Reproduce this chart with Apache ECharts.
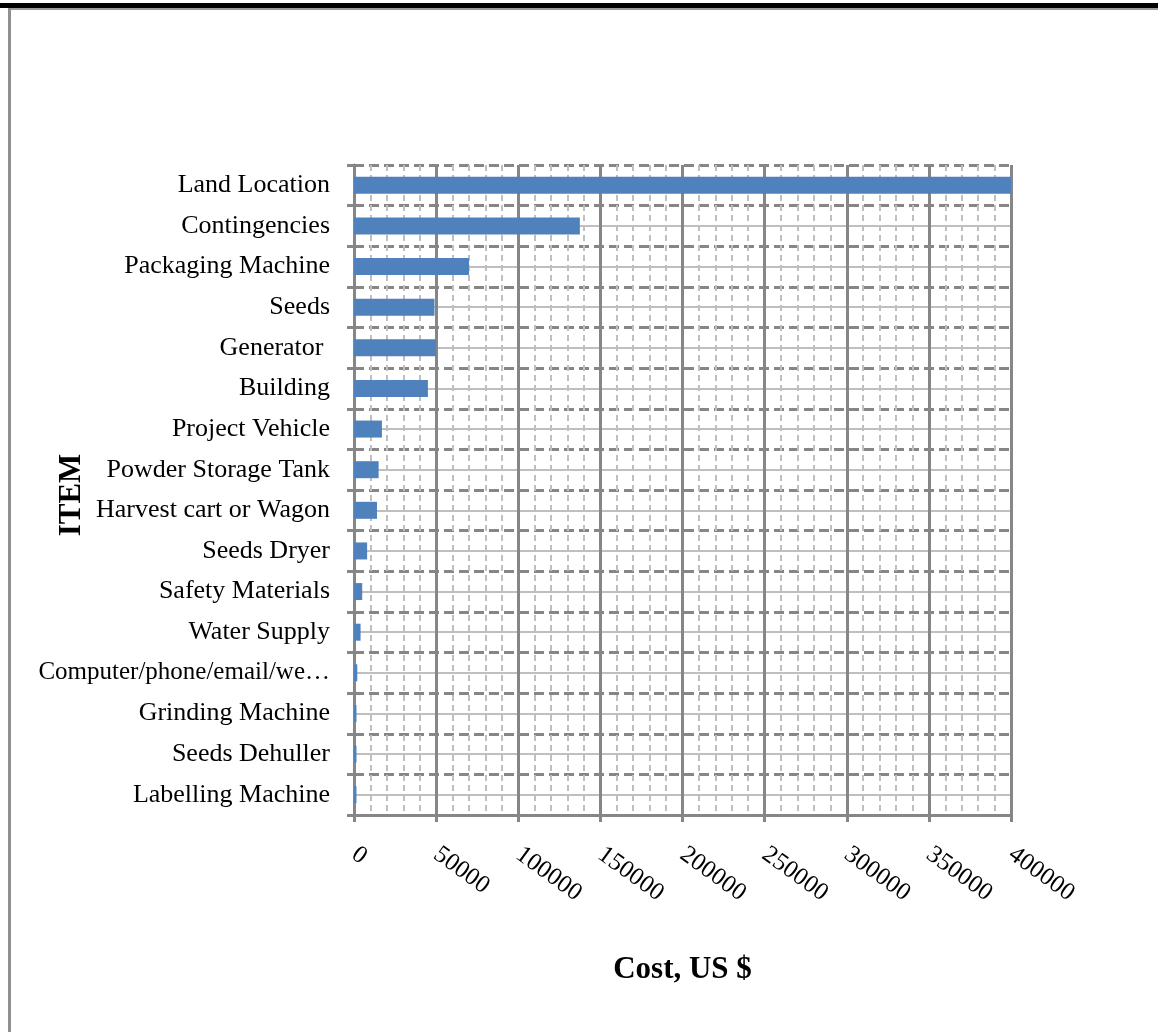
<!DOCTYPE html>
<html>
<head>
<meta charset="utf-8">
<style>
  html, body { margin: 0; padding: 0; background: #ffffff; }
  #chart { width: 1158px; height: 1032px; }
</style>
<script src="https://cdn.jsdelivr.net/npm/echarts@6/dist/echarts.min.js"></script>
</head>
<body>
<div id="chart"></div>
<script>
// Categories, top to bottom as shown
const categories = [
  "Land Location",
  "Contingencies",
  "Packaging Machine",
  "Seeds",
  "Generator ",
  "Building",
  "Project Vehicle",
  "Powder Storage Tank",
  "Harvest cart or Wagon",
  "Seeds Dryer",
  "Safety Materials",
  "Water Supply",
  "Computer/phone/email/website",
  "Grinding Machine",
  "Seeds Dehuller",
  "Labelling Machine"
];
// Cost, US $
const costs = [
  400000, 137500, 70000, 49000, 50000, 45000, 17000, 15000,
  14000, 8000, 5000, 4000, 2000, 1500, 1500, 1500
];
const xTicks = { min: 0, max: 400000, interval: 50000 };

const FONT = "'Liberation Serif', 'Times New Roman', serif";
const DARK = '#868686';
const LIGHT = '#BFBFBF';

const chart = echarts.init(document.getElementById('chart'), null, { renderer: 'canvas' });
const n = categories.length;

const catData = categories.map(function (c) {
  return c.length > 23 ? { value: c, textStyle: { fontSize: 25 } } : c;
});

chart.setOption({
  animation: false,
  backgroundColor: '#ffffff',
  graphic: [
    { type: 'rect', left: 0, top: 3, shape: { width: 1158, height: 5 }, style: { fill: '#000000' }, z: 100 },
    { type: 'rect', left: 8, top: 8, shape: { width: 1150, height: 2 }, style: { fill: '#999999' }, z: 100 },
    { type: 'rect', left: 8, top: 8, shape: { width: 3, height: 1024 }, style: { fill: '#909090' }, z: 100 }
  ],
  grid: { left: 354, right: 147, top: 165, bottom: 217, containLabel: false, outerBoundsMode: 'none' },
  xAxis: {
    type: 'value',
    min: xTicks.min,
    max: xTicks.max,
    interval: xTicks.interval,
    name: 'Cost, US $',
    nameLocation: 'middle',
    nameGap: 139,
    nameMoveOverlap: false,
    nameTextStyle: { fontFamily: FONT, fontSize: 31, fontWeight: 'bold', color: '#000' },
    axisLine: { show: true, lineStyle: { color: DARK, width: 3 } },
    axisTick: { show: true, length: 7, lineStyle: { color: DARK, width: 3 } },
    axisLabel: {
      rotate: -36, margin: 37, fontFamily: FONT, fontSize: 25, color: '#000',
      formatter: function (v) { return String(v); }
    },
    splitLine: { show: true, lineStyle: { color: DARK, width: 3, type: 'solid' } },
    minorTick: { show: false, splitNumber: 5 },
    minorSplitLine: { show: true, lineStyle: { color: LIGHT, width: 2, type: [6, 4] } }
  },
  yAxis: [
    {
      type: 'category',
      inverse: true,
      data: catData,
      name: 'ITEM',
      nameLocation: 'middle',
      nameGap: 267,
      nameRotate: 90,
      nameMoveOverlap: false,
      nameTextStyle: { fontFamily: FONT, fontSize: 31, fontWeight: 'bold', color: '#000', padding: [0, 10, 0, 0] },
      axisLine: { show: true, lineStyle: { color: DARK, width: 3 } },
      axisTick: { show: true, interval: 0, length: 7, lineStyle: { color: DARK, width: 3 } },
      axisLabel: {
        interval: 0, margin: 24, fontFamily: FONT, fontSize: 26, color: '#000',
        formatter: function (v) { return v.length > 23 ? v.slice(0, 23) + '…' : v; }
      },
      splitLine: { show: false }
    },
    {
      type: 'value',
      min: 0,
      max: n * 2,
      interval: 2,
      position: 'right',
      axisLine: { show: false },
      axisTick: { show: false },
      axisLabel: { show: false },
      splitLine: { show: true, lineStyle: { color: DARK, width: 3, type: [10, 5] } },
      minorTick: { show: false, splitNumber: 2 },
      minorSplitLine: { show: true, lineStyle: { color: LIGHT, width: 2, type: 'solid' } }
    }
  ],
  series: [
    {
      type: 'bar',
      yAxisIndex: 0,
      data: costs,
      barWidth: 17,
      itemStyle: { color: '#4F81BD' },
      z: 5
    }
  ]
});
</script>
</body>
</html>
